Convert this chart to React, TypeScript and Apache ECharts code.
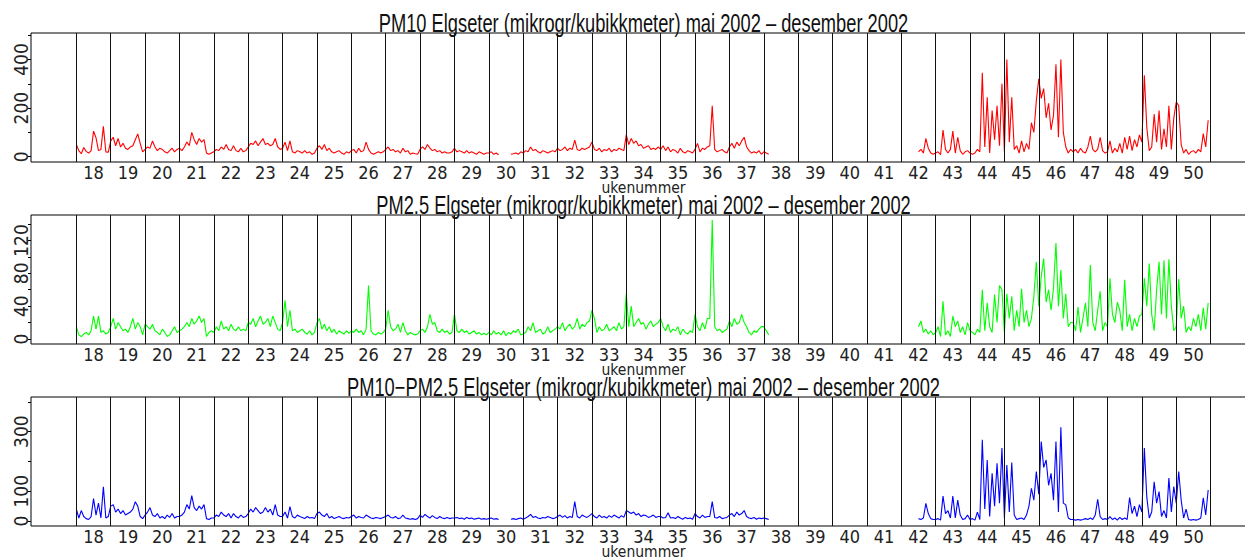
import React, { useEffect, useRef } from "react";
import * as echarts from "echarts";

// ---------- data ----------
const weeks = [18, 19, 20, 21, 22, 23, 24, 25, 26, 27, 28, 29, 30, 31, 32, 33, 34, 35, 36, 37, 38, 39, 40, 41, 42, 43, 44, 45, 46, 47, 48, 49, 50];
const weekBoundaries = weeks.concat([51]);
const stepsPerWeek = 14; // two readings per day
const summerStart = 18; // start of first block (week number)
const autumnStart = 42.5; // start of second block (week number)

// PM10, 12-hour values, weeks 18 .. start of 38
const pm10Summer = [
  50, 25, 12, 38, 22, 15, 25, 105, 78, 25, 30, 125, 20, 18,
  65, 80, 45, 75, 40, 55, 35, 30, 40, 45, 70, 94, 55, 20,
  30, 40, 35, 65, 40, 25, 35, 30, 20, 15, 25, 35, 20, 30,
  35, 25, 40, 60, 45, 100, 70, 50, 75, 60, 70, 15, 10, 15,
  20, 30, 25, 40, 30, 50, 30, 25, 45, 25, 20, 35, 20, 25,
  40, 55, 50, 65, 45, 60, 75, 50, 55, 45, 50, 75, 40, 30,
  35, 60, 25, 65, 20, 15, 25, 20, 15, 25, 15, 20, 10, 15,
  35, 45, 30, 50, 25, 35, 20, 15, 20, 25, 15, 10, 20, 15,
  25, 30, 15, 35, 20, 25, 60, 30, 15, 10, 15, 20, 15, 20,
  30, 40, 25, 30, 20, 25, 15, 35, 20, 25, 10, 15, 12, 10,
  30, 40, 30, 50, 35, 25, 30, 20, 25, 15, 20, 15, 15, 20,
  35, 20, 25, 20, 15, 25, 15, 20, 15, 10, 20, 15, 10, 15,
  15, 20, 10, 15, 8, null, null, null, null, 10, 12, 15, 10, 20,
  15, 25, 20, 40, 25, 30, 20, 15, 25, 20, 15, 20, 25, 20,
  35, 25, 30, 40, 25, 35, 30, 68, 30, 25, 35, 30, 35, 40,
  60, 30, 25, 35, 20, 30, 25, 35, 20, 30, 25, 35, 30, 25,
  90, 50, 75, 55, 65, 45, 50, 35, 40, 45, 30, 35, 30, 40,
  30, 45, 25, 40, 20, 30, 25, 15, 35, 20, 15, 25, 20, 15,
  30, 55, 20, 35, 30, 40, 45, 210, 30, 20, 25, 30, 20, 15,
  40, 55, 35, 60, 45, 65, 80, 40, 25, 15, 20, 15, 25, 10,
  20, 15, 10,
];
// PM10, 12-hour values, middle of week 42 .. end of week 50
const pm10Autumn = [
  20, 30, 15, 75, 35, 15, 10,
  15, 20, 8, 110, 30, 15, 30, 105, 15, 80, 25, 10, 20, 25,
  15, 10, 15, 30, 20, 345, 40, 245, 15, 190, 70, 210, 45, 300,
  20, 400, 60, 245, 30, 45, 15, 65, 20, 55, 30, 140, 100, 230,
  320, 240, 280, 160, 220, 110, 170, 380, 80, 400, 100, 40, 15, 30,
  20, 30, 15, 35, 20, 15, 40, 85, 30, 20, 30, 80, 25, 15,
  20, 65, 15, 35, 20, 55, 15, 80, 30, 85, 25, 70, 40, 90,
  60, 335, 120, 25, 40, 175, 60, 190, 30, 115, 40, 210, 30, 160,
  225, 210, 50, 15, 30, 10, 20, 25, 15, 30, 20, 95, 40, 150,
];

const pm25Summer = [
  15, 5, 3, 6, 8, 5, 10, 28, 12, 28, 8, 10, 6, 8,
  15, 25, 12, 20, 15, 10, 12, 8, 15, 25, 12, 20, 15, 5,
  18, 15, 12, 18, 10, 8, 5, 12, 8, 3, 5, 10, 15, 8,
  10, 12, 15, 20, 15, 25, 18, 22, 28, 20, 25, 3, 8, 10,
  8, 15, 10, 22, 12, 15, 10, 18, 12, 10, 15, 10, 12, 10,
  20, 18, 25, 15, 22, 28, 18, 20, 25, 15, 28, 20, 12, 10,
  20, 47, 15, 35, 10, 12, 8, 10, 12, 8, 6, 10, 5, 8,
  20, 25, 12, 18, 10, 15, 8, 12, 6, 10, 8, 6, 10, 7,
  10, 8, 12, 8, 10, 5, 12, 65, 10, 6, 5, 8, 6, 8,
  12, 35, 15, 10, 12, 18, 8, 20, 10, 5, 8, 6, 5, 6,
  10, 12, 8, 15, 30, 18, 20, 10, 8, 12, 8, 10, 6, 8,
  30, 10, 8, 12, 8, 10, 6, 8, 10, 6, 8, 5, 7, 5,
  8, 5, 10, 6, 8, 5, 10, 4, 8, 6, 10, 8, 12, 5,
  6, 8, 15, 10, 20, 8, 10, 12, 6, 8, 15, 8, 10, 12,
  15, 12, 20, 10, 15, 18, 12, 15, 25, 12, 18, 15, 20, 22,
  35, 25, 8, 15, 10, 12, 18, 10, 12, 15, 10, 20, 12, 15,
  55, 15, 40, 15, 20, 25, 18, 20, 12, 18, 22, 15, 18, 20,
  25, 15, 10, 18, 8, 12, 10, 15, 5, 12, 8, 6, 10, 8,
  30, 15, 10, 20, 12, 25, 25, 145, 15, 10, 12, 8, 10, 12,
  22, 15, 25, 18, 20, 30, 20, 15, 8, 5, 10, 8, 12, 15,
  15, 10, 5,
];
const pm25Autumn = [
  15, 22, 8, 12, 6, 10, 5,
  8, 15, 3, 46, 5, 10, 3, 28, 15, 22, 8, 15, 5, 20,
  10, 8, 5, 12, 8, 60, 10, 44, 15, 8, 54, 20, 65, 60,
  8, 55, 25, 52, 10, 35, 15, 61, 20, 35, 15, 25, 52, 94,
  40, 76, 98, 45, 60, 35, 62, 117, 40, 84, 25, 55, 15, 20,
  20, 10, 39, 8, 25, 44, 15, 90, 20, 10, 35, 58, 10, 20,
  15, 74, 30, 20, 45, 35, 10, 72, 15, 30, 10, 25, 15, 28,
  30, 74, 40, 92, 30, 10, 60, 94, 30, 96, 25, 97, 40, 10,
  15, 73, 25, 40, 8, 15, 10, 25, 15, 30, 10, 38, 12, 44,
];

const coarseSummer = [
  40, 10, 35, 15, 8, 5, 15, 75, 20, 60, 10, 115, 10, 15,
  50, 55, 30, 40, 25, 35, 20, 25, 30, 40, 65, 50, 15, 8,
  20, 30, 45, 20, 15, 25, 10, 15, 8, 20, 12, 25, 10, 15,
  15, 20, 30, 55, 40, 85, 45, 35, 50, 40, 55, 8, 5, 10,
  10, 20, 15, 30, 20, 15, 25, 10, 25, 15, 10, 20, 12, 15,
  25, 40, 30, 45, 35, 25, 30, 45, 30, 40, 20, 55, 20, 15,
  15, 30, 10, 48, 15, 10, 20, 15, 12, 8, 15, 10, 12, 8,
  25, 30, 20, 15, 25, 10, 15, 8, 12, 15, 10, 8, 12, 10,
  15, 20, 10, 15, 12, 10, 20, 15, 10, 8, 12, 10, 8, 12,
  15, 20, 12, 10, 15, 8, 10, 20, 10, 8, 6, 8, 5, 8,
  20, 12, 22, 15, 10, 18, 12, 8, 15, 10, 8, 12, 8, 10,
  10, 12, 8, 10, 6, 12, 8, 10, 6, 8, 10, 6, 8, 6,
  8, 10, 6, 8, 5, null, null, null, null, 6, 8, 5, 8, 10,
  6, 10, 15, 22, 12, 15, 10, 8, 12, 10, 15, 12, 8, 10,
  15, 20, 12, 18, 10, 15, 12, 65, 15, 10, 20, 15, 12, 18,
  25, 15, 10, 20, 12, 15, 10, 18, 12, 20, 15, 10, 18, 12,
  35, 30, 25, 30, 20, 25, 15, 20, 18, 12, 15, 20, 12, 15,
  15, 10, 12, 28, 10, 12, 8, 15, 10, 6, 12, 8, 10, 6,
  25, 15, 10, 20, 12, 15, 15, 65, 12, 10, 15, 8, 10, 12,
  20, 25, 15, 30, 20, 25, 35, 15, 10, 8, 12, 6, 10, 8,
  10, 8, 5,
];
const coarseAutumn = [
  8, 5, 10, 59, 25, 8, 5,
  5, 8, 3, 84, 25, 35, 10, 84, 10, 70, 20, 5, 8, 20,
  5, 8, 3, 30, 5, 273, 40, 205, 15, 160, 50, 194, 60, 245,
  10, 188, 30, 196, 20, 5, 8, 10, 5, 20, 50, 110, 70, 166,
  90, 267, 180, 205, 120, 160, 70, 267, 30, 315, 60, 54, 10, 5,
  5, 3, 5, 3, 5, 8, 5, 10, 5, 20, 73, 15, 5, 8,
  5, 15, 5, 10, 3, 12, 5, 10, 5, 79, 25, 50, 15, 55,
  30, 245, 80, 10, 30, 132, 60, 99, 15, 35, 10, 144, 30, 116,
  60, 166, 70, 10, 40, 5, 3, 5, 3, 5, 10, 78, 20, 104,
];

const pm10TickValues = [0, 100, 200, 300, 400, 500];
const pm10LabelValues = [0, 200, 400];
const pm25TickValues = [0, 20, 40, 60, 80, 100, 120, 140];
const pm25LabelValues = [0, 40, 80, 120];
const coarseTickValues = [0, 100, 200, 300, 400];
const coarseLabelValues = [0, 100, 300];

const titles = [
  "PM10 Elgseter (mikrogr/kubikkmeter) mai 2002 – desember 2002",
  "PM2.5 Elgseter (mikrogr/kubikkmeter) mai 2002 – desember 2002",
  "PM10−PM2.5 Elgseter (mikrogr/kubikkmeter) mai 2002 – desember 2002",
];
const xAxisTitle = "ukenummer";

// ---------- layout / style ----------
const W = 1245;
const H = 558;
const panelTops = [33, 215, 397];
const panelHeight = 129;
const gridLeft = 31;
const gridRight = -11;
const xMin = 16.68;
const xMax = 52.32;
const NARROW = '"Liberation Sans Narrow", "DejaVu Sans Condensed", "Liberation Sans", Arial, sans-serif';

const panels = [
  { summer: pm10Summer, autumn: pm10Autumn, color: "#ff0000", yMin: -21.8, yMax: 509, ticks: pm10TickValues, labels: pm10LabelValues },
  { summer: pm25Summer, autumn: pm25Autumn, color: "#00ff00", yMin: -6.1, yMax: 151, ticks: pm25TickValues, labels: pm25LabelValues },
  { summer: coarseSummer, autumn: coarseAutumn, color: "#0000ff", yMin: -16.8, yMax: 416.5, ticks: coarseTickValues, labels: coarseLabelValues },
];

function toPoints(summer: (number | null)[], autumn: (number | null)[]) {
  const pts: any[] = [];
  summer.forEach((v, i) => pts.push([summerStart + i / stepsPerWeek, v == null ? "-" : v]));
  pts.push([summerStart + summer.length / stepsPerWeek, "-"]);
  autumn.forEach((v, i) => pts.push([autumnStart + i / stepsPerWeek, v == null ? "-" : v]));
  return pts;
}

function buildOption() {
  const grid: any[] = [];
  const xAxis: any[] = [];
  const yAxis: any[] = [];
  const series: any[] = [];
  const graphic: any[] = [];

  panels.forEach((p, i) => {
    grid.push({
      left: gridLeft,
      right: gridRight,
      top: panelTops[i],
      height: panelHeight,
      show: true,
      borderColor: "#000",
      borderWidth: 1,
      backgroundColor: "transparent",
      containLabel: false,
      outerBoundsMode: "none",
    });
    xAxis.push({
      type: "value",
      gridIndex: i,
      min: xMin,
      max: xMax,
      axisLine: { show: false },
      axisTick: { show: false },
      splitLine: { show: false },
      axisLabel: {
        show: true,
        customValues: weeks.map((w) => w + 0.5),
        formatter: (v: number) => String(Math.round(v - 0.5)),
        color: "#222",
        fontFamily: NARROW,
        fontSize: 18,
        margin: 1,
      },
      name: xAxisTitle,
      nameLocation: "middle",
      nameGap: 18,
      nameMoveOverlap: false,
      nameTextStyle: { color: "#222", fontFamily: NARROW, fontSize: 15.5 },
    });
    yAxis.push({
      type: "value",
      gridIndex: i,
      min: p.yMin,
      max: p.yMax,
      axisLine: { show: false },
      splitLine: { show: false },
      axisTick: {
        show: true,
        inside: false,
        length: 3,
        customValues: p.ticks,
        lineStyle: { color: "#000", width: 1 },
      },
      axisLabel: {
        show: true,
        customValues: p.labels,
        rotate: 90,
        margin: 1,
        color: "#222",
        fontFamily: NARROW,
        fontSize: 19,
      },
    });
    series.push({
      type: "line",
      xAxisIndex: i,
      yAxisIndex: i,
      data: toPoints(p.summer, p.autumn),
      showSymbol: false,
      symbol: "none",
      connectNulls: false,
      silent: true,
      lineStyle: { color: p.color, width: 1.1 },
      markLine: {
        silent: true,
        symbol: ["none", "none"],
        label: { show: false },
        lineStyle: { color: "#111", width: 1, type: "solid" },
        emphasis: { disabled: true },
        data: weekBoundaries.map((w) => ({ xAxis: w })),
      },
    });
    graphic.push({
      type: "text",
      x: (gridLeft + (W - gridRight)) / 2,
      y: panelTops[i] - 10,
      scaleX: 0.732,
      silent: true,
      style: {
        text: titles[i],
        fontFamily: '"Liberation Sans", Arial, sans-serif',
        fontSize: 25,
        fill: "#111",
        align: "center",
        verticalAlign: "middle",
      },
    });
  });

  return {
    animation: false,
    backgroundColor: "#ffffff",
    grid,
    xAxis,
    yAxis,
    series,
    graphic,
  };
}

export default function App() {
  const ref = useRef<HTMLDivElement>(null);
  useEffect(() => {
    if (!ref.current) return;
    const chart = echarts.init(ref.current, undefined, { renderer: "svg", width: W, height: H });
    chart.setOption(buildOption() as any);
    return () => chart.dispose();
  }, []);
  return (
    <div
      ref={ref}
      style={{ position: "absolute", left: 0, top: 0, width: W, height: H, background: "#fff" }}
    />
  );
}
